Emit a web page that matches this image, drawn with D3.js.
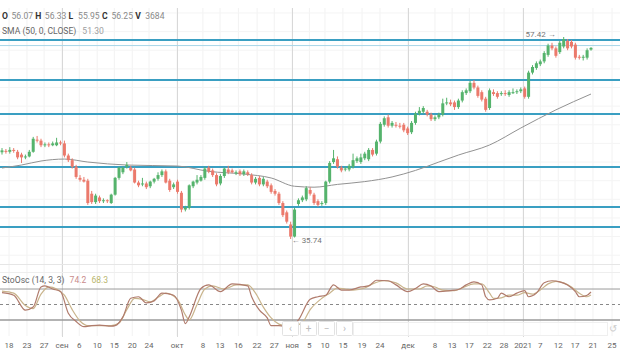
<!DOCTYPE html>
<html><head><meta charset="utf-8">
<script src="https://cdn.jsdelivr.net/npm/d3@7"></script>
<style>html,body{margin:0;padding:0;background:#fff;}svg{display:block;font-family:Roboto,"Noto Sans",sans-serif;}</style>
</head><body>
<svg id="c" width="620" height="364"></svg>
<script>
// ---- data ----
const opens  = [45.05,45.2,45.1,45.3,45.1,44.8,44.5,44.6,45.1,46.4,46.3,45.8,45.9,45.8,45.8,46.1,46.0,44.7,44.2,43.5,42.3,42.1,42.0,40.6,39.7,40.2,39.8,39.9,39.6,40.5,42.3,42.9,43.5,43.4,43.2,41.8,41.6,41.7,41.4,41.9,42.2,42.6,43.0,42.0,41.3,41.9,40.7,38.9,39.1,41.4,41.8,42.0,42.3,43.4,43.1,42.6,41.7,42.5,43.2,43.1,42.8,43.0,42.7,42.9,42.6,41.8,42.3,41.6,41.9,41.5,40.9,40.6,39.6,38.6,37.3,36.0,39.5,39.9,40.0,41.0,40.5,39.8,39.5,39.6,41.9,44.0,44.3,43.4,43.2,43.2,43.5,44.1,44.0,44.4,44.3,45.3,44.9,46.2,48.0,48.8,47.9,48.0,47.9,48.0,47.6,47.2,48.2,49.2,49.4,49.4,49.1,48.6,48.8,49.1,50.3,50.4,50.4,49.9,50.6,51.4,51.6,52.5,52.0,51.5,50.8,49.8,51.5,51.4,51.3,51.4,51.2,51.5,51.5,51.6,51.9,51.0,53.6,54.1,54.5,54.8,55.5,56.5,56.2,55.8,56.4,57.0,56.9,56.6,55.3,55.2,55.2,56.07];
const highs  = [45.5,45.4,45.6,45.5,45.3,45.0,44.8,45.3,46.7,46.8,46.5,46.1,46.1,46.2,46.6,46.3,46.3,44.9,44.4,43.7,42.6,42.4,42.2,40.9,40.6,40.4,40.1,40.0,40.6,42.4,43.5,43.5,44.0,43.6,43.4,42.0,42.3,41.9,42.0,42.3,42.9,43.2,43.2,42.2,41.8,42.1,40.9,39.3,41.6,42.0,42.6,42.6,43.5,43.6,43.3,42.8,42.7,43.4,43.6,43.3,43.1,43.2,43.2,43.1,42.8,42.4,42.5,42.4,42.1,41.7,41.1,40.8,39.8,38.8,37.6,39.1,40.1,40.4,41.4,41.3,40.7,40.0,39.8,42.0,44.1,45.3,44.6,43.6,43.5,43.8,44.9,44.6,44.9,45.1,45.5,45.5,46.4,48.3,48.9,49.1,48.4,48.3,48.2,48.2,47.8,48.4,49.4,49.9,50.0,49.6,49.3,49.0,49.3,50.8,50.9,50.7,50.6,50.8,51.7,51.9,52.7,52.8,52.2,51.7,51.0,51.9,51.8,51.6,51.6,51.7,51.7,51.9,51.8,52.0,52.1,53.8,54.4,54.8,55.0,55.9,56.7,56.8,56.4,57.0,57.42,57.2,57.1,56.8,55.5,55.5,56.2,56.33];
const lows   = [44.8,44.9,44.9,45.0,44.3,43.9,44.3,44.5,45.0,46.1,45.6,45.6,45.6,45.7,45.7,45.8,44.5,44.0,43.3,42.2,41.9,41.8,39.4,39.5,39.5,39.6,39.6,39.6,39.5,40.4,42.1,42.7,43.3,43.0,41.7,41.3,41.4,41.1,41.2,41.7,42.0,42.4,41.7,40.8,41.1,40.6,38.6,38.7,38.9,41.2,41.6,41.9,42.1,42.8,42.4,41.4,41.5,42.3,42.7,42.8,42.6,42.5,42.5,42.5,41.6,41.6,41.4,41.4,41.2,40.6,40.4,39.4,38.1,37.4,35.74,35.9,39.3,39.7,39.8,40.4,39.4,39.2,39.3,39.4,41.7,43.8,43.3,42.9,43.0,43.0,43.3,43.9,43.8,44.2,44.1,44.6,44.7,46.0,47.8,47.7,47.7,47.7,47.6,47.2,46.9,47.0,48.0,49.0,49.2,48.9,48.4,48.4,48.6,48.9,50.1,50.0,49.6,49.7,50.4,51.2,51.4,51.8,50.9,50.5,49.4,49.6,51.1,50.8,51.1,51.1,51.0,51.3,51.3,51.4,50.8,50.8,53.4,53.9,54.3,54.6,55.3,56.0,55.2,55.6,56.2,56.0,56.2,55.0,55.0,54.9,55.0,55.95];
const closes = [45.25,45.1,45.3,45.2,44.5,44.5,44.6,45.1,46.5,46.3,45.8,45.9,45.8,46.0,46.1,46.0,44.7,44.2,43.5,42.4,42.1,41.9,39.6,39.7,40.4,39.8,39.9,39.8,40.5,42.3,43.4,43.4,43.7,43.1,41.8,41.5,41.7,41.3,41.9,42.2,42.6,43.0,41.8,41.0,41.6,40.8,38.9,39.1,41.5,41.9,42.1,42.4,43.3,43.0,42.6,41.6,42.5,43.3,42.9,42.9,42.9,42.7,43.0,42.7,41.8,42.2,41.6,42.2,41.4,40.8,40.6,39.6,38.3,37.6,36.0,38.9,39.9,40.2,41.2,40.6,39.6,39.4,39.6,41.9,43.9,44.4,43.5,43.1,43.3,43.6,44.2,44.4,44.5,44.9,45.3,44.8,46.2,48.1,48.7,47.9,48.2,47.9,47.8,47.4,47.1,48.2,49.2,49.5,49.8,49.1,48.6,48.8,49.1,50.3,50.4,50.2,49.9,50.6,51.5,51.7,52.5,52.0,51.1,50.7,49.6,51.7,51.3,51.0,51.4,51.3,51.5,51.5,51.6,51.8,51.0,53.6,54.2,54.6,54.8,55.7,56.5,56.2,55.4,56.8,57.2,56.2,56.4,55.2,55.2,55.3,56.0,56.25];

const smaIdx = [0,5,10,16,22,32,45,53,62,69,75,80,86,93,100,106,112,117,125,133,142,151];
const smaVal = [43.36,43.68,44.11,44.32,44.0,43.68,43.57,43.0,42.71,42.29,41.4,41.3,41.6,41.9,42.4,43.1,44.0,44.75,45.83,47.65,49.6,51.30];

const levels = [57.09,52.8,49.15,43.47,39.17,37.03];
const thinLevel = 56.5;

const kIdx = [0,3,6,8,10,11,13,15,17,19,21,23,25,28,29,31,33,35,37,39,41,44,46,47,48,51,53,56,59,63,64,66,68,69,71,74,76,79,81,83,85,87,89,92,94,96,99,101,104,106,108,110,112,115,117,119,121,123,124,125,127,128,130,132,134,135,137,139,141,143,145,147,148,150,151];
const kVal = [73,68,39,45,84,86,80,75,33,17,7,9,10,8,9,26,62,65,53,57,72,68,39,13,26,81,88,75,90,86,65,39,24,9,9,5,20,60,65,68,88,78,78,84,86,97,96,88,75,81,90,86,75,77,79,88,94,88,65,59,62,72,65,72,77,65,72,92,96,94,88,75,65,68,74.2];
const dIdx = [0,3,6,8,10,12,14,16,18,20,22,25,28,30,32,34,36,38,40,42,45,47,48,50,52,54,57,60,63,65,67,69,71,74,77,79,82,84,86,88,90,93,95,98,101,104,107,109,111,113,116,118,121,123,125,126,128,130,132,134,136,138,140,142,144,146,148,150,151];
const dVal = [76,72,48,42,70,84,80,68,40,18,9,9,9,14,40,62,60,55,64,72,60,30,20,50,80,86,80,88,88,72,45,24,12,7,15,40,62,72,82,80,78,82,90,96,92,80,80,86,84,78,77,82,90,90,72,62,63,68,68,73,70,78,90,95,92,84,72,65,68.3];

const tickIdx = [1.8,6.4,10.8,15.4,19.8,24.4,28.8,33.4,37.7,44.9,51.5,55.9,60.6,65.4,69.8,74.4,78.8,82.8,87.4,92.3,96.9,104.1,111.0,115.4,119.8,124.4,128.7,133.6,138.0,142.6,146.9,151.5,156.4];
const tickLabels = ["18","23","27","сен","6","10","15","20","24","окт","8","13","16","22","27","ноя","5","10","15","19","24","дек","8","13","17","22","28","2021","7","12","17","21","25"];
const monthTicks = ["сен","окт","ноя","дек","2021"];

const headerKeys = ["O","H","L","C","V"];
const headerVals = ["56.07","56.33","55.95","56.25","3684"];
const smaLabel = ["SMA (50, 0, CLOSE)","51.30"];
const stoLabel = ["StoOsc (14, 3, 3)","74.2","68.3"];
const stoLevels = [80,50,20];
const extremes = [{i:144,v:57.42,label:"57.42",dir:"hi"},{i:74,v:35.74,label:"35.74",dir:"lo"}];

// ---- drawing ----
const svg = d3.select("#c");
const W = 620;
const x = d3.scaleLinear().domain([0,151]).range([2,591]);
const y = d3.scaleLinear().domain([35.74,57.42]).range([239,37]);
const ys = d3.scaleLinear().domain([0,100]).range([330.3,278.7]);
const GREEN = "#55b36c", RED = "#eb7a6c";

// faint grid
const g0 = svg.append("g");
g0.selectAll("line.vg").data(tickIdx).join("line")
  .attr("x1",d=>x(d)).attr("x2",d=>x(d)).attr("y1",8).attr("y2",336)
  .attr("stroke","#f2f2f2").attr("stroke-width",1);
g0.selectAll("line.hg").data(d3.range(34,62,2)).join("line")
  .attr("x1",0).attr("x2",W).attr("y1",d=>y(d)).attr("y2",d=>y(d))
  .attr("stroke","#f4f4f4");
// month lines
g0.selectAll("line.mg").data(tickIdx.filter((d,i)=>monthTicks.includes(tickLabels[i]))).join("line")
  .attr("x1",d=>Math.round(x(d))+0.5).attr("x2",d=>Math.round(x(d))+0.5).attr("y1",8).attr("y2",337)
  .attr("stroke","#d8d8d8");
// panel separators
svg.append("line").attr("x1",0).attr("x2",W).attr("y1",264.5).attr("y2",264.5).attr("stroke","#e6e6e6");
svg.append("line").attr("x1",0).attr("x2",W).attr("y1",272.5).attr("y2",272.5).attr("stroke","#eeeeee");

// thin price line
svg.append("line").attr("x1",0).attr("x2",W).attr("y1",y(thinLevel)).attr("y2",y(thinLevel))
  .attr("stroke","#a8d6e8").attr("stroke-width",1);
// level lines
svg.append("g").selectAll("line").data(levels).join("line")
  .attr("x1",0).attr("x2",W).attr("y1",d=>y(d)).attr("y2",d=>y(d))
  .attr("stroke","#3a9fc2").attr("stroke-width",2);

// SMA
const sma = smaIdx.map((d,i)=>[d,smaVal[i]]);
svg.append("path").datum(sma)
  .attr("d",d3.line().x(d=>x(d[0])).y(d=>y(d[1])).curve(d3.curveMonotoneX))
  .attr("fill","none").attr("stroke","#929292").attr("stroke-width",1);

// candles
const cand = opens.map((o,i)=>({i,o,h:highs[i],l:lows[i],c:closes[i]}));
const cg = svg.append("g");
cg.selectAll("line").data(cand).join("line")
  .attr("x1",d=>x(d.i)).attr("x2",d=>x(d.i)).attr("y1",d=>y(d.h)).attr("y2",d=>y(d.l))
  .attr("stroke",d=>d.c>=d.o?GREEN:RED).attr("stroke-width",1);
cg.selectAll("rect").data(cand).join("rect")
  .attr("x",d=>x(d.i)-1.5).attr("width",3)
  .attr("y",d=>y(Math.max(d.o,d.c))).attr("height",d=>Math.max(1,Math.abs(y(d.o)-y(d.c))))
  .attr("fill",d=>d.c>=d.o?GREEN:RED);

// extremes labels
extremes.forEach(e=>{
  if(e.dir==="hi"){
    svg.append("text").attr("x",x(e.i)-8).attr("y",y(e.v)).attr("text-anchor","end")
      .attr("font-size",8).attr("fill","#777").text(e.label+" →");
  } else {
    svg.append("text").attr("x",x(e.i)+1).attr("y",y(e.v)+4).attr("text-anchor","start")
      .attr("font-size",8).attr("fill","#777").text("← "+e.label);
  }
});

// header
const hg = svg.append("g").attr("font-size",8.6);
headerKeys.forEach((k,i)=>{
  const bx = 2 + i*33.3;
  hg.append("text").attr("x",bx).attr("y",19).attr("font-weight","bold").attr("fill","#333").text(k);
  hg.append("text").attr("x",bx+(k==="V"?10:9.5)).attr("y",19).attr("fill","#8a8a8a").text(headerVals[i]);
});
const st = svg.append("text").attr("x",2).attr("y",34).attr("font-size",8.6);
st.append("tspan").attr("fill","#666").text(smaLabel[0]);
st.append("tspan").attr("fill","#a0a0a0").attr("dx",6).text(smaLabel[1]);

// stochastic panel
svg.append("g").selectAll("line").data(stoLevels).join("line")
  .attr("x1",0).attr("x2",W).attr("y1",d=>ys(d)).attr("y2",d=>ys(d))
  .attr("stroke",d=>d===50?"#888":"#9a9a9a").attr("stroke-width",d=>d===20?1.3:1)
  .attr("stroke-dasharray",d=>d===50?"3,3":null);
const lineS = d3.line().x(d=>x(d[0])).y(d=>ys(d[1])).curve(d3.curveMonotoneX);
svg.append("path").datum(dIdx.map((d,i)=>[d,dVal[i]])).attr("d",lineS)
  .attr("fill","none").attr("stroke","#c9b48c").attr("stroke-width",1.2);
svg.append("path").datum(kIdx.map((d,i)=>[d,kVal[i]])).attr("d",lineS)
  .attr("fill","none").attr("stroke","#b07b6c").attr("stroke-width",1.2);
const so = svg.append("text").attr("x",2).attr("y",283).attr("font-size",8.6);
so.append("tspan").attr("fill","#666").text(stoLabel[0]);
so.append("tspan").attr("fill","#c98c8c").attr("dx",5).text(stoLabel[1]);
so.append("tspan").attr("fill","#b9b66e").attr("dx",5).text(stoLabel[2]);

// navigation bar
svg.append("rect").attr("x",353.5).attr("y",322.5).attr("width",254).attr("height",13)
  .attr("fill","#fff").attr("fill-opacity",0.6).attr("stroke","#efefef");
const btns = ["‹","+","−","›"];
btns.forEach((b,i)=>{
  const bx = 282 + i*18;
  svg.append("rect").attr("x",bx+0.5).attr("y",321.5).attr("width",16).attr("height",14)
    .attr("fill","#fff").attr("stroke","#e2e2e2").attr("rx",1);
  svg.append("text").attr("x",bx+8.5).attr("y",332).attr("text-anchor","middle")
    .attr("font-size",10).attr("fill","#bbb").text(b);
});
svg.append("text").attr("x",613).attr("y",332).attr("text-anchor","middle")
  .attr("font-size",10).attr("fill","#ccc").text("↺");

// x axis labels
svg.append("g").selectAll("text").data(tickIdx).join("text")
  .attr("x",d=>x(d)).attr("y",348).attr("text-anchor","middle")
  .attr("font-size",8).attr("fill","#666")
  .text((d,i)=>tickLabels[i]);
</script>
</body></html>
